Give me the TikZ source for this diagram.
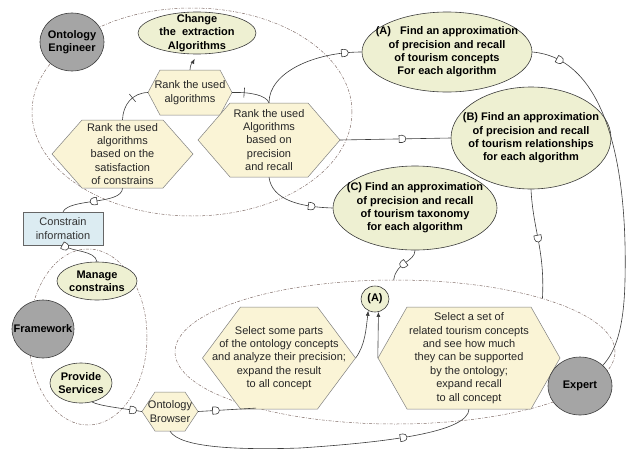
\documentclass[tikz,border=0pt]{standalone}
\usepackage{fontspec}
\setmainfont{Liberation Sans}
\usetikzlibrary{shapes.geometric,decorations.markings,arrows.meta}

\definecolor{actorgray}{RGB}{165,165,165}
\definecolor{casegreen}{RGB}{238,240,210}
\definecolor{hexcream}{RGB}{250,244,214}
\definecolor{boxblue}{RGB}{220,236,242}
\definecolor{grpline}{RGB}{130,110,105}
\definecolor{wire}{RGB}{60,60,60}

\newcommand\txtsize{\fontsize{11}{13.4}\selectfont}

\tikzset{
  grp/.style={ellipse, draw=grpline, line width=0.5pt,
    dash pattern=on 3pt off 1.5pt on 0.8pt off 1.5pt, inner sep=0pt},
  actor/.style={ellipse, draw=wire, fill=actorgray, line width=0.6pt, inner sep=0pt},
  usecase/.style={ellipse, draw=wire, fill=casegreen, line width=0.6pt, inner sep=0pt},
  casetext/.style={align=center, font=\txtsize\bfseries, inner sep=0pt},
  hexbody/.style={draw=gray, fill=hexcream, line width=0.5pt},
  hextext/.style={rectangle, inner sep=0pt, align=center, font=\txtsize, text=black!85},
  infobox/.style={rectangle, draw=gray!80!black, fill=boxblue, line width=0.5pt,
    align=center, font=\txtsize, text=black!80, inner sep=0pt},
  wireline/.style={draw=wire, line width=0.6pt},
  arr/.style={-{Latex[length=5pt,width=4pt]}},
  dm/.style={postaction={decorate}, decoration={markings, mark=at position #1 with
    {\draw[wire, fill=white, line width=0.6pt] (-3pt,-3.6pt) -- (-3pt,3.6pt) -- (0.2pt,3.6pt)
      arc[start angle=90, end angle=-90, radius=3.6pt] -- cycle;}}},
  tk/.style={postaction={decorate}, decoration={markings, mark=at position #1 with
    {\draw[wire, line width=0.6pt] (0,-5pt) -- (0,5pt);}}},
}

% hexagon: name, centre, width, height, corner inset, text
\newcommand\hexnode[6]{%
  \path[hexbody] (#2) +(-#3/2,0) -- +({-#3/2+#5},-#4/2) -- +({#3/2-#5},-#4/2)
     -- +(#3/2,0) -- +({#3/2-#5},#4/2) -- +({-#3/2+#5},#4/2) -- cycle;
  \node[hextext, minimum width=#3, minimum height=#4] (#1) at (#2) {#6};}

\begin{document}
\begin{tikzpicture}[x=1pt, y=-1pt, font=\txtsize]
\useasboundingbox (0,0) rectangle (628,450);

% groups
\node[grp, minimum width=320, minimum height=208] (gE) at (192,112) {};
\node[grp, minimum width=118, minimum height=176] (gF) at (88,337) {};
\node[grp, minimum width=440, minimum height=144] (gX) at (395,352) {};

% hexagonal activities
\hexnode{hs}{190,92.5}{84}{45}{12}{Rank the used\\algorithms}
\hexnode{hl}{122.5,154}{141}{68}{30}{Rank the used\\algorithms\\based on the\\satisfaction\\of constrains}
\hexnode{hr}{269,140}{142}{74}{32}{Rank the used\\Algorithms\\based on\\precision\\and recall}
\hexnode{hp}{279,358}{153}{102}{38}{Select some parts\\of the ontology concepts\\and analyze their precision;\\expand the result\\to all concept}
\hexnode{hq}{469,358}{182}{102}{29}{Select a set of\\related tourism concepts\\and see how much\\they can be supported\\by the ontology;\\expand recall\\to all concept}
\hexnode{ob}{170,411.5}{56}{39}{13}{Ontology\\Browser}

% use cases
\node[usecase, minimum width=118, minimum height=42] (chg) at (197,33) {};
\node[casetext] (chg-t) at (chg) {Change\\the\ \ extraction\\Algorithms};
\node[usecase, minimum width=170, minimum height=80] (A) at (447,52) {};
\node[casetext] (A-t) at (A) {(A)\ \ \ Find an approximation\\of precision and recall\\of tourism concepts\\For each algorithm};
\node[usecase, minimum width=160, minimum height=102] (B) at (531,138) {};
\node[casetext] (B-t) at (B) {(B) Find an approximation\\of precision and recall\\of tourism relationships\\for each algorithm};
\node[usecase, minimum width=164, minimum height=84] (C) at (415,208) {};
\node[casetext] (C-t) at (C) {(C) Find an approximation\\of precision and recall\\of tourism taxonomy\\for each algorithm};
\node[usecase, minimum width=80, minimum height=38] (ma) at (97,281) {};
\node[casetext] (ma-t) at (ma) {Manage\\constrains};
\node[usecase, minimum width=62, minimum height=40] (ps) at (81,383) {};
\node[casetext] (ps-t) at (ps) {Provide\\Services};
\node[usecase, minimum width=28, minimum height=26] (sa) at (375,299) {};
\node[casetext] (sa-t) at (sa) {(A)};

% actors
\node[actor, minimum width=64, minimum height=58] (oe) at (72,42) {};
\node[casetext] (oe-t) at (oe) {Ontology\\Engineer};
\node[actor, minimum width=62, minimum height=58] (fw) at (43,329) {};
\node[casetext] (fw-t) at (fw) {Framework};
\node[actor, minimum width=64, minimum height=58] (ex) at (580,386) {};
\node[casetext] (ex-t) at (ex) {Expert};

% information box
\node[infobox, minimum width=80, minimum height=33] (ci) at (63,228.5) {Constrain\\information};

% connectors
\draw[wireline, arr, shorten >=5pt] (hs.north) .. controls (190,64) and (193,62) .. (chg.south);
\draw[wireline, tk=0.6] (hl.north) .. controls (123,105) and (132,93) .. (hs.west);
\draw[wireline, tk=0.3] (hs.east) .. controls (250,92) and (266,95) .. (hr.north);
\draw[wireline, dm=0.85] (hr.north) .. controls (269,72) and (315,52) .. (A.west);
\draw[wireline, dm=0.56] (hr.east) -- (B.west);
\draw[wireline, dm=0.72] (hr.south) .. controls (272,200) and (300,207) .. (C.west);
\draw[wireline, dm=0.08] (A.east) .. controls (600,58) and (628,150) .. (625,280)
   .. controls (624,330) and (615,352) .. (ex.north east);
\draw[wireline, dm=0.45] (B.south) .. controls (533,230) and (545,250) .. (gX.20);
\draw[wireline, dm=0.5] (C.south) .. controls (415,262) and (396,262) .. (gX.91);
\draw[wireline, arr] (hp.east) .. controls (365,345) and (366,330) .. (sa.240);
\draw[wireline, arr] (hq.west) -- (sa.285);
\draw[wireline, dm=0.5] (hl.south) .. controls (122,205) and (70,198) .. (ci.north);
\draw[wireline, dm=0.06] (ci.south) .. controls (72,252) and (95,250) .. (ma.north);
\draw[wireline, dm=0.82] (ps.-60) .. controls (100,406) and (120,408) .. (ob.west);
\draw[wireline, dm=0.3] (ob.east) -- (gX.202.5);
\draw[wireline, dm=0.76] (ob.south) .. controls (180,448) and (240,450) .. (300,448)
   .. controls (390,442) and (468,432) .. (hq.south);
\end{tikzpicture}
\end{document}
